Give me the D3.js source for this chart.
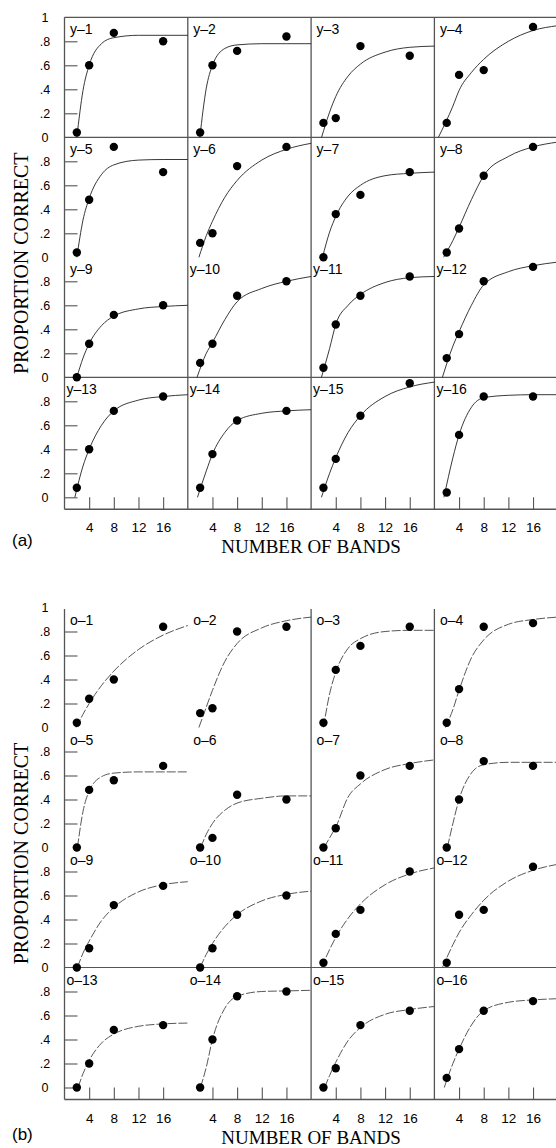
<!DOCTYPE html>
<html>
<head>
<meta charset="utf-8">
<script src="https://cdn.jsdelivr.net/npm/d3@7"></script>
<style>
  body { margin: 0; background: #fff; }
  svg { display: block; }
</style>
</head>
<body>
<script>
// page size
var width = 556;
var height = 1148;

// number of bands where each point was measured
const bands = [2, 4, 8, 16];
const curveX = [3, 4, 6, 8, 12, 16, 20];
const xTickValues = [4, 8, 12, 16];
const yTickValues = [0, 0.2, 0.4, 0.6, 0.8, 1];
const yTickLabels = ["0", ".2", ".4", ".6", ".8", "1"];

// (a) y- listeners
const namesA = ["y\u20131", "y\u20132", "y\u20133", "y\u20134", "y\u20135", "y\u20136", "y\u20137", "y\u20138",
  "y\u20139", "y\u201310", "y\u201311", "y\u201312", "y\u201313", "y\u201314", "y\u201315", "y\u201316"];
const dotsA = [
  [0.04, 0.60, 0.87, 0.80],
  [0.04, 0.60, 0.72, 0.84],
  [0.12, 0.16, 0.76, 0.68],
  [0.12, 0.52, 0.56, 0.92],
  [0.04, 0.48, 0.92, 0.71],
  [0.12, 0.20, 0.76, 0.92],
  [0.00, 0.36, 0.52, 0.71],
  [0.04, 0.24, 0.68, 0.92],
  [0.00, 0.28, 0.52, 0.60],
  [0.12, 0.28, 0.68, 0.80],
  [0.08, 0.44, 0.68, 0.84],
  [0.16, 0.36, 0.80, 0.92],
  [0.08, 0.40, 0.72, 0.84],
  [0.08, 0.36, 0.64, 0.72],
  [0.08, 0.32, 0.68, 0.95],
  [0.04, 0.52, 0.84, 0.84]
];
// where each fitted curve leaves zero
const startA = [2.0, 1.95, 1.7, 0.65, 2.0, 1.8, 1.85, 1.5, 2.0, 1.5, 1.68, 1.3, 1.68, 1.57, 1.68, 1.55];
// fitted curve values at curveX
const curveA = [
  [0.39, 0.60, 0.78, 0.83, 0.85, 0.85, 0.85],
  [0.41, 0.60, 0.74, 0.77, 0.78, 0.78, 0.78],
  [0.21, 0.34, 0.51, 0.61, 0.71, 0.75, 0.76],
  [0.26, 0.39, 0.54, 0.65, 0.80, 0.89, 0.93],
  [0.31, 0.49, 0.69, 0.77, 0.81, 0.815, 0.815],
  [0.18, 0.30, 0.50, 0.64, 0.81, 0.90, 0.95],
  [0.21, 0.34, 0.51, 0.60, 0.68, 0.70, 0.71],
  [0.14, 0.25, 0.48, 0.68, 0.84, 0.92, 0.96],
  [0.16, 0.28, 0.43, 0.51, 0.57, 0.59, 0.60],
  [0.20, 0.29, 0.48, 0.63, 0.74, 0.80, 0.84],
  [0.24, 0.44, 0.60, 0.69, 0.79, 0.83, 0.84],
  [0.26, 0.38, 0.60, 0.77, 0.88, 0.93, 0.96],
  [0.26, 0.40, 0.60, 0.72, 0.81, 0.84, 0.855],
  [0.22, 0.36, 0.54, 0.64, 0.70, 0.72, 0.73],
  [0.20, 0.33, 0.54, 0.68, 0.84, 0.92, 0.96],
  [0.33, 0.52, 0.75, 0.83, 0.85, 0.855, 0.855]
];

// (b) o- listeners
const namesB = ["o\u20131", "o\u20132", "o\u20133", "o\u20134", "o\u20135", "o\u20136", "o\u20137", "o\u20138",
  "o\u20139", "o\u201310", "o\u201311", "o\u201312", "o\u201313", "o\u201314", "o\u201315", "o\u201316"];
const dotsB = [
  [0.04, 0.24, 0.40, 0.84],
  [0.12, 0.16, 0.80, 0.84],
  [0.04, 0.48, 0.68, 0.84],
  [0.04, 0.32, 0.84, 0.87],
  [0.00, 0.48, 0.56, 0.68],
  [0.00, 0.08, 0.44, 0.40],
  [0.00, 0.16, 0.60, 0.68],
  [0.00, 0.40, 0.72, 0.68],
  [0.00, 0.16, 0.52, 0.68],
  [0.00, 0.16, 0.44, 0.60],
  [0.04, 0.28, 0.48, 0.80],
  [0.04, 0.44, 0.48, 0.84],
  [0.00, 0.20, 0.48, 0.52],
  [0.00, 0.40, 0.76, 0.80],
  [0.00, 0.16, 0.52, 0.64],
  [0.08, 0.32, 0.64, 0.72]
];
const startB = [1.9, 1.8, 2.0, 1.8, 2.1, 2.1, 2.1, 2.1, 2.1, 2.0, 1.7, 1.3, 2.2, 2.05, 2.2, 1.6];
const curveB = [
  [0.11, 0.20, 0.35, 0.47, 0.65, 0.77, 0.85],
  [0.17, 0.31, 0.55, 0.70, 0.83, 0.89, 0.92],
  [0.28, 0.46, 0.66, 0.74, 0.80, 0.81, 0.81],
  [0.15, 0.31, 0.58, 0.73, 0.86, 0.90, 0.92],
  [0.30, 0.47, 0.59, 0.62, 0.63, 0.63, 0.63],
  [0.11, 0.20, 0.31, 0.37, 0.41, 0.43, 0.43],
  [0.08, 0.17, 0.42, 0.53, 0.65, 0.70, 0.73],
  [0.20, 0.40, 0.62, 0.69, 0.71, 0.71, 0.71],
  [0.12, 0.22, 0.39, 0.50, 0.63, 0.69, 0.715],
  [0.11, 0.20, 0.34, 0.44, 0.555, 0.61, 0.636],
  [0.15, 0.25, 0.41, 0.53, 0.69, 0.78, 0.83],
  [0.19, 0.29, 0.44, 0.56, 0.72, 0.81, 0.86],
  [0.115, 0.225, 0.37, 0.445, 0.51, 0.53, 0.537],
  [0.17, 0.40, 0.66, 0.76, 0.80, 0.805, 0.81],
  [0.10, 0.21, 0.39, 0.50, 0.61, 0.65, 0.675],
  [0.20, 0.32, 0.52, 0.64, 0.71, 0.73, 0.74]
];

// grid layout
const left = 64.5;
const colW = 123.3;
const rowH = 120;
const frameColor = "#555";
const sans = "'Liberation Sans', Arial, sans-serif";
const serif = "'Liberation Serif', 'Times New Roman', serif";

const panels = [
  {names: namesA, dots: dotsA, starts: startA, curves: curveA, top: 17.3, tag: "(a)", tagY: 546, titleY: 553,
    dashed: false, topLine: true, hLines: [1, 3], vLines: [0, 1, 2, 3]},
  {names: namesB, dots: dotsB, starts: startB, curves: curveB, top: 607.5, tag: "(b)", tagY: 1140, titleY: 1144,
    dashed: true, topLine: false, hLines: [3], vLines: [0, 2, 3]}
];

var svg = d3.select("body")
  .append("svg")
  .attr("width", width)
  .attr("height", height);

svg.append("rect").attr("width", width).attr("height", height).attr("fill", "#fff");

// scales inside one small plot
var xScale = d3.scaleLinear().domain([0, 20]).range([0, colW]);
var yScale = d3.scaleLinear().domain([0, 1]).range([rowH, 0]);

var line = d3.line()
  .x(d => xScale(d[0]))
  .y(d => yScale(d[1]))
  .curve(d3.curveMonotoneX);

panels.forEach(function (p) {
  const g = svg.append("g");
  const bottomY = p.top + 4 * rowH + 12;

  // frame lines
  if (p.topLine) {
    g.append("line").attr("x1", left).attr("x2", width).attr("y1", p.top).attr("y2", p.top)
      .attr("stroke", frameColor).attr("stroke-width", 1.2);
  }
  p.hLines.forEach(function (r) {
    g.append("line").attr("x1", left).attr("x2", width)
      .attr("y1", p.top + r * rowH).attr("y2", p.top + r * rowH)
      .attr("stroke", frameColor).attr("stroke-width", 1.2);
  });
  g.append("line").attr("x1", left).attr("x2", width).attr("y1", bottomY).attr("y2", bottomY)
    .attr("stroke", frameColor).attr("stroke-width", 1.4);
  p.vLines.forEach(function (c) {
    g.append("line").attr("x1", left + c * colW).attr("x2", left + c * colW)
      .attr("y1", p.top + (p.topLine ? 0 : 1.5)).attr("y2", bottomY)
      .attr("stroke", frameColor).attr("stroke-width", 1.3);
  });

  // y axes, one per row
  for (let r = 0; r < 4; r++) {
    const vals = r === 0 ? yTickValues : yTickValues.slice(0, 5);
    const ax = g.append("g")
      .attr("transform", `translate(${left},${p.top + r * rowH})`)
      .call(d3.axisLeft(yScale)
        .tickValues(vals)
        .tickFormat(d => yTickLabels[yTickValues.indexOf(d)])
        .tickSizeInner(-13)
        .tickSizeOuter(0)
        .tickPadding(19.5));
    ax.select(".domain").remove();
    ax.selectAll(".tick line")
      .attr("stroke", frameColor)
      .attr("stroke-width", 1.1)
      .style("display", d => (d === 1 || (d === 0 && r < 3)) ? "none" : null);
    ax.selectAll(".tick text")
      .attr("text-anchor", "middle")
      .attr("fill", "#000")
      .style("font-family", sans)
      .style("font-size", "12.5px");
  }

  // x axes, one per column
  for (let c = 0; c < 4; c++) {
    const ax = g.append("g")
      .attr("transform", `translate(${left + c * colW},${bottomY})`)
      .call(d3.axisBottom(xScale)
        .tickValues(xTickValues)
        .tickSizeInner(-12)
        .tickSizeOuter(0)
        .tickPadding(13.5));
    ax.select(".domain").remove();
    ax.selectAll(".tick line").attr("stroke", frameColor).attr("stroke-width", 1.1);
    ax.selectAll(".tick text")
      .attr("fill", "#000")
      .style("font-family", sans)
      .style("font-size", "13.5px");
  }

  // the 16 small plots
  p.names.forEach(function (name, i) {
    const r = Math.floor(i / 4), c = i % 4;
    const cell = g.append("g")
      .attr("transform", `translate(${left + c * colW},${p.top + r * rowH})`);

    const pts = [[p.starts[i], 0]].concat(curveX.map((xv, j) => [xv, p.curves[i][j]]));
    cell.append("path")
      .datum(pts)
      .attr("d", line)
      .attr("fill", "none")
      .attr("stroke", p.dashed ? "#444" : "#222")
      .attr("stroke-width", 0.9)
      .attr("stroke-dasharray", p.dashed ? "9,2" : null);

    cell.selectAll("circle")
      .data(p.dots[i])
      .enter()
      .append("circle")
      .attr("cx", (d, j) => xScale(bands[j]))
      .attr("cy", d => yScale(d))
      .attr("r", 4.2)
      .attr("fill", "#000");

    cell.append("text")
      .attr("x", name.length > 3 ? 2 : 5.5)
      .attr("y", 17)
      .style("font-family", sans)
      .style("font-size", "14px")
      .text(name);
  });

  // titles
  svg.append("text")
    .attr("transform", `translate(28,${p.top + 246}) rotate(-90)`)
    .attr("text-anchor", "middle")
    .style("font-family", serif)
    .style("font-size", "20px")
    .text("PROPORTION CORRECT");

  svg.append("text")
    .attr("x", left + 2 * colW)
    .attr("y", p.titleY)
    .attr("text-anchor", "middle")
    .style("font-family", serif)
    .style("font-size", "19px")
    .text("NUMBER OF BANDS");

  svg.append("text")
    .attr("x", 12)
    .attr("y", p.tagY)
    .style("font-family", sans)
    .style("font-size", "17px")
    .text(p.tag);
});
</script>
</body>
</html>
